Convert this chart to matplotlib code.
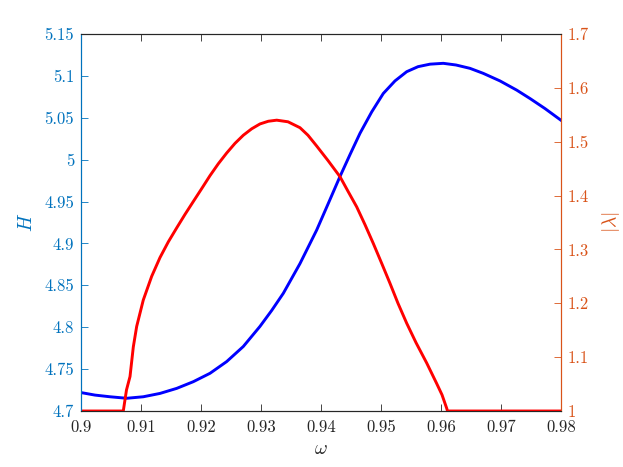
import numpy as np
import matplotlib
matplotlib.use("Agg")
from matplotlib import pyplot as plt
from matplotlib.ticker import FuncFormatter

plt.rcParams['font.family'] = 'serif'
plt.rcParams['font.serif'] = ['cmr10']
plt.rcParams['mathtext.fontset'] = 'cm'
plt.rcParams['axes.formatter.use_mathtext'] = True

# H (left axis)
omega_H = [0.9, 0.90233, 0.90483, 0.90762, 0.91038, 0.91317, 0.91595, 0.91872,
           0.9215, 0.92428, 0.92705, 0.92983, 0.93178, 0.93372, 0.9365, 0.93928,
           0.94117, 0.94317, 0.94483, 0.9465, 0.94845, 0.95038, 0.95233, 0.95428,
           0.95617, 0.95817, 0.96038, 0.9625, 0.96483, 0.96705, 0.96983, 0.97262,
           0.97483, 0.97733, 0.98]
H = [4.722, 4.719, 4.717, 4.7152, 4.717, 4.721, 4.727, 4.735,
     4.745, 4.759, 4.777, 4.801, 4.820, 4.8405, 4.876, 4.916,
     4.947, 4.980, 5.006, 5.0315, 5.057, 5.079, 5.094, 5.105,
     5.111, 5.114, 5.115, 5.113, 5.109, 5.103, 5.094, 5.083,
     5.073, 5.061, 5.047]

# |lambda| (right axis)
omega_L = [0.9, 0.90705, 0.90758, 0.90817, 0.90872, 0.90928, 0.91038, 0.91178,
           0.91317, 0.91455, 0.91595, 0.91733, 0.91872, 0.92012, 0.9215, 0.92288,
           0.92428, 0.92567, 0.92705, 0.92845, 0.92983, 0.93122, 0.93262, 0.9345,
           0.9365, 0.93783, 0.93928, 0.94117, 0.94317, 0.9445, 0.94595, 0.94733,
           0.94872, 0.95012, 0.9515, 0.95283, 0.95428, 0.95583, 0.95762, 0.95928,
           0.96017, 0.96095, 0.96108, 0.98]
lam = [1.0, 1.0, 1.039, 1.064, 1.119, 1.157, 1.206, 1.250,
       1.285, 1.314, 1.340, 1.365, 1.389, 1.413, 1.437, 1.459,
       1.479, 1.497, 1.512, 1.524, 1.533, 1.538, 1.540, 1.537,
       1.526, 1.512, 1.492, 1.465, 1.435, 1.408, 1.379, 1.346,
       1.311, 1.274, 1.237, 1.200, 1.163, 1.127, 1.089, 1.051,
       1.03, 1.005, 1.0, 1.0]

xticks = [0.9, 0.91, 0.92, 0.93, 0.94, 0.95, 0.96, 0.97, 0.98]
hticks = [4.7, 4.75, 4.8, 4.85, 4.9, 4.95, 5, 5.05, 5.1, 5.15]
lticks = [1, 1.1, 1.2, 1.3, 1.4, 1.5, 1.6, 1.7]

c_left = '#0072BD'
c_right = '#D95319'
c_box = '#262626'

fmt = FuncFormatter(lambda v, p: ('%g' % round(v, 4)))

fig = plt.figure(figsize=(6.23, 4.67), dpi=100)
ax = fig.add_axes([0.130, 0.1199, 0.7705, 0.8073])
ax2 = ax.twinx()

ax.plot(omega_H, H, color='blue', lw=2.1)
ax2.plot(omega_L, lam, color='red', lw=2.1)

ax.set_xlim(0.9, 0.98)
ax.set_ylim(4.7, 5.15)
ax2.set_ylim(1, 1.7)
ax.set_xticks(xticks)
ax.set_yticks(hticks)
ax2.set_yticks(lticks)
ax.xaxis.set_major_formatter(fmt)
ax.yaxis.set_major_formatter(fmt)
ax2.yaxis.set_major_formatter(fmt)

ax.tick_params(axis='x', direction='in', length=5, width=0.6, top=True,
               colors=c_box, labelsize=12, pad=6)
ax.tick_params(axis='y', direction='in', length=5, width=0.6, colors=c_left,
               labelsize=12, pad=5)
ax2.tick_params(axis='y', direction='in', length=5, width=0.6, colors=c_right,
                labelsize=12, pad=5)

for a in (ax, ax2):
    for s in a.spines.values():
        s.set_linewidth(0.8)
        s.set_color(c_box)
ax2.spines['left'].set_color(c_left)
ax2.spines['right'].set_color(c_right)
ax.spines['left'].set_color(c_left)
ax.spines['right'].set_color(c_right)

ax.set_xlabel(r'$\omega$', fontsize=14, color=c_box, labelpad=4)
ax.set_ylabel(r'$H$', fontsize=14, color=c_left, labelpad=6)
ax2.set_ylabel(r'$|\lambda|$', fontsize=14, color=c_right, labelpad=8)

fig.savefig('out.png', dpi=100)
